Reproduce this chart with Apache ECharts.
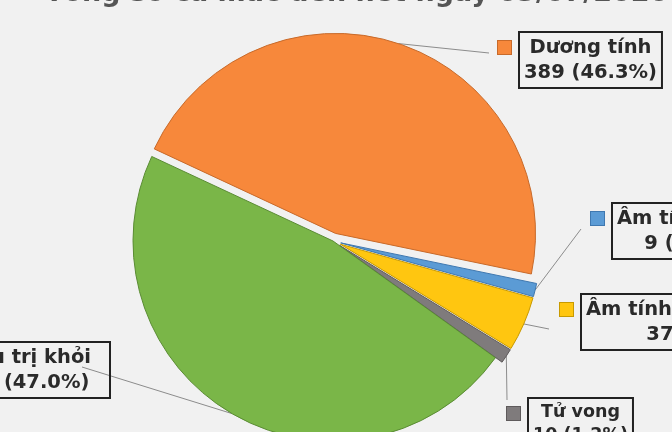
<!DOCTYPE html>
<html><head><meta charset="utf-8">
<script src="https://cdn.jsdelivr.net/npm/echarts@6/dist/echarts.min.js"></script>
<style>html,body{margin:0;padding:0;background:#f1f1f1}#c{width:672px;height:432px}</style>
</head><body><div id="c"></div>
<script>
const titleText = 'Tổng số ca mắc đến hết ngày 03/07/2020';
const categories = ['Dương tính', 'Âm tính lần 1', 'Âm tính lần 2 trở lên', 'Tử vong', 'Điều trị khỏi'];
const values = [389, 9, 37, 10, 395];

// styles / layout
const fills = ['#F7883B', '#5B9BD5', '#FFC610', '#7F7B7C', '#7AB648'];
const borders = ['#C86A2A', '#3F78B0', '#C89A00', '#5E5A5B', '#5A8C33'];
const explodeDist = [8, 8, 8, 8, 0];
const baseCenter = [333, 241];
const pieRadius = 200;
const startAngle = 155;
const boxPos = [[518, 32, 'left'], [611, 203, 'left'], [580, 294, 'left'], [527, 398, 'left'], [111, 342, 'right']];
const lineEnds = [[489, 53], [581, 229], [549, 329], [507, 400], [82, 367]];
const fontSizes = [19.5, 19.5, 19.5, 17.5, 19.5];
const lineHeights = [25, 25, 25, 23, 25];
const paddings = [[3, 5, 3, 5], [3, 5, 3, 5], [3, 5, 3, 5], [3, 5, 3, 5], [3, 19, 3, 19]];
const keyWidthGuess = 178;

const chart = echarts.init(document.getElementById('c'));
const total = values.reduce((a, b) => a + b, 0);

// explosion offset for each slice, along its mid angle
let cum = 0;
const offsets = values.map((v, i) => {
  const mid = (startAngle - 360 * (cum + v / 2) / total) * Math.PI / 180;
  cum += v;
  return [explodeDist[i] * Math.cos(mid), -explodeDist[i] * Math.sin(mid)];
});

const transparent = 'rgba(0,0,0,0)';

const sliceSeries = categories.map((_, k) => ({
  type: 'pie',
  center: [baseCenter[0] + offsets[k][0], baseCenter[1] + offsets[k][1]],
  radius: pieRadius,
  startAngle: startAngle,
  clockwise: true,
  silent: true,
  z: 2,
  avoidLabelOverlap: false,
  emphasis: { disabled: true },
  label: {
    show: true, position: 'outside',
    formatter: p => p.name + '\n' + p.value + ' (' + p.percent.toFixed(1) + '%)',
    fontFamily: 'DejaVu Sans', fontWeight: 'bold', color: '#2a2a2a',
    borderColor: '#222', borderWidth: 1, backgroundColor: 'transparent'
  },
  labelLine: { show: true, length: 10, length2: 10, lineStyle: { color: '#8c8c8c', width: 1 } },
  labelLayout: function (p) {
    const i = p.dataIndex;
    const b = boxPos[i];
    const w = p.labelRect.width;
    const cx = b[2] === 'left' ? b[0] + w / 2 : b[0] - w / 2;
    const pts = p.labelLinePoints;
    const start = pts && pts[0] ? pts[0] : lineEnds[i];
    return {
      x: cx, y: b[1], align: 'center', verticalAlign: 'top',
      labelLinePoints: [start, lineEnds[i], lineEnds[i]]
    };
  },
  data: categories.map((n, i) => ({
    name: n, value: values[i],
    itemStyle: i === k
      ? { color: fills[i], borderColor: borders[i], borderWidth: 1 }
      : { color: transparent, borderWidth: 0 },
    label: i === k
      ? { show: true, fontSize: fontSizes[i], lineHeight: lineHeights[i], padding: paddings[i] }
      : { show: false },
    labelLine: { show: i === k }
  }))
}));

const keySeries = {
  type: 'pie',
  center: baseCenter,
  radius: pieRadius,
  startAngle: startAngle,
  silent: true,
  z: 1,
  emphasis: { disabled: true },
  itemStyle: { color: transparent, borderWidth: 0 },
  label: { show: true, position: 'outside', formatter: '{s| }' },
  labelLine: { show: false },
  labelLayout: function (p) {
    const i = p.dataIndex;
    const b = boxPos[i];
    const left = b[2] === 'left' ? b[0] : b[0] - keyWidthGuess;
    return { x: left - 20, y: b[1] + 9, align: 'left', verticalAlign: 'top' };
  },
  data: categories.map((n, i) => ({
    name: n, value: values[i],
    label: { rich: { s: { width: 13, height: 13, lineHeight: 13, backgroundColor: fills[i], borderColor: borders[i], borderWidth: 1 } } }
  }))
};

chart.setOption({
  backgroundColor: '#f1f1f1',
  animation: false,
  title: {
    text: titleText, left: 40, top: -25,
    textStyle: { fontFamily: 'DejaVu Sans', fontWeight: 'bold', fontSize: 27, color: '#555555' }
  },
  series: sliceSeries.concat([keySeries])
});
</script></body></html>
